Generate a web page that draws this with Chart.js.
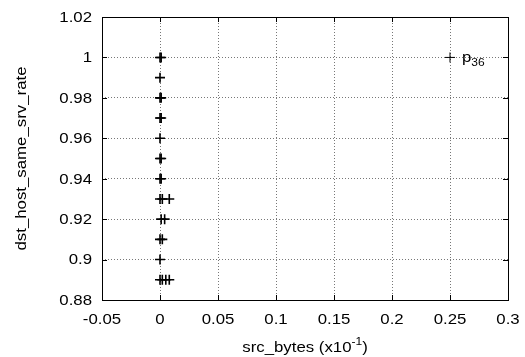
<!DOCTYPE html>
<html>
<head>
<meta charset="utf-8">
<script src="https://cdn.jsdelivr.net/npm/chart.js@4/dist/chart.umd.min.js"></script>
<style>
  html, body { margin: 0; padding: 0; background: #fff; }
  canvas { display: block; }
</style>
</head>
<body>
<canvas id="chart" width="525" height="357"></canvas>
<script>
// points clustered near src_bytes = 0
const srcBytes = [0, 0.001, 0, 0, 0.001, 0, 0.001, 0, 0, 0.001, 0, 0.001, 0, 0.002, 0.008, 0.001, 0.004, 0, 0.002, 0, 0, 0.002, 0.005, 0.008];
const srvRate  = [1, 1, 0.99, 0.98, 0.98, 0.97, 0.97, 0.96, 0.95, 0.95, 0.94, 0.94, 0.93, 0.93, 0.93, 0.92, 0.92, 0.91, 0.91, 0.9, 0.89, 0.89, 0.89, 0.89];
// labelled outlier
const outlierX = [0.25];
const outlierY = [1];
const xTicks = [-0.05, 0, 0.05, 0.1, 0.15, 0.2, 0.25, 0.3];
const yTicks = [0.88, 0.9, 0.92, 0.94, 0.96, 0.98, 1, 1.02];

const FONT = "'Liberation Sans', Arial, sans-serif";
const SIZE = 14;
const SX = 1.2; // gnuplot text looks wide, stretch along the baseline
const fmt = v => String(parseFloat(v.toFixed(2)));

function wideText(ctx, text, x, y, align, baseline, size, rot) {
  ctx.save();
  ctx.translate(x, y);
  if (rot) ctx.rotate(rot);
  ctx.scale(SX, 1);
  ctx.font = size + 'px ' + FONT;
  ctx.textAlign = align;
  ctx.textBaseline = baseline;
  ctx.fillText(text, 0, 0);
  ctx.restore();
}

function textW(ctx, text, size) {
  ctx.font = size + 'px ' + FONT;
  return ctx.measureText(text).width * SX;
}

// frame, inward ticks and all text drawn like gnuplot
const framePlugin = {
  id: 'frame',
  afterDatasetsDraw(chart) {
    const { ctx, chartArea: a, scales: { x, y } } = chart;
    ctx.save();
    ctx.strokeStyle = '#000';
    ctx.fillStyle = '#000';
    ctx.lineWidth = 1;
    ctx.beginPath();
    xTicks.forEach(v => {
      const px = Math.round(x.getPixelForValue(v)) + 0.5;
      ctx.moveTo(px, a.bottom); ctx.lineTo(px, a.bottom - 5);
      ctx.moveTo(px, a.top); ctx.lineTo(px, a.top + 5);
    });
    yTicks.forEach(v => {
      const py = Math.round(y.getPixelForValue(v)) + 0.5;
      ctx.moveTo(a.left, py); ctx.lineTo(a.left + 5, py);
      ctx.moveTo(a.right, py); ctx.lineTo(a.right - 5, py);
    });
    ctx.stroke();
    ctx.strokeRect(Math.round(a.left) + 0.5, Math.round(a.top) + 0.5,
      Math.round(a.right - a.left), Math.round(a.bottom - a.top));

    // tick labels
    xTicks.forEach(v => {
      wideText(ctx, fmt(v), x.getPixelForValue(v), a.bottom + 20, 'center', 'middle', SIZE);
    });
    yTicks.forEach(v => {
      wideText(ctx, fmt(v), a.left - 10, y.getPixelForValue(v) + 1, 'right', 'middle', SIZE);
    });

    // y axis title
    wideText(ctx, 'dst_host_same_srv_rate', 22, (a.top + a.bottom) / 2, 'center', 'middle', SIZE, -Math.PI / 2);

    // x axis title with superscript
    const main = 'src_bytes (x10';
    const sup = '-1';
    const tail = ')';
    const w1 = textW(ctx, main, SIZE);
    const w2 = textW(ctx, sup, 10);
    const w3 = textW(ctx, tail, SIZE);
    const sx = (a.left + a.right) / 2 - (w1 + w2 + w3) / 2;
    const by = 352;
    wideText(ctx, main, sx, by, 'left', 'alphabetic', SIZE);
    wideText(ctx, sup, sx + w1, by - 7, 'left', 'alphabetic', 10);
    wideText(ctx, tail, sx + w1 + w2, by, 'left', 'alphabetic', SIZE);

    // outlier label p36
    const lx = x.getPixelForValue(outlierX[0]) + 12;
    const ly = y.getPixelForValue(outlierY[0]) + 5;
    const pw = textW(ctx, 'p', SIZE);
    wideText(ctx, 'p', lx, ly, 'left', 'alphabetic', SIZE);
    wideText(ctx, '36', lx + pw, ly + 4, 'left', 'alphabetic', 10);
    ctx.restore();
  }
};

const ctx = document.getElementById('chart').getContext('2d');
new Chart(ctx, {
  type: 'scatter',
  data: {
    datasets: [
      {
        label: 'points',
        data: srcBytes.map((v, i) => ({ x: v, y: srvRate[i] })),
        pointStyle: 'cross',
        pointRadius: 5,
        pointBorderWidth: 1.6,
        borderColor: '#000',
        backgroundColor: '#000'
      },
      {
        label: 'p36',
        data: outlierX.map((v, i) => ({ x: v, y: outlierY[i] })),
        pointStyle: 'cross',
        pointRadius: 5,
        pointBorderWidth: 1,
        borderColor: '#000',
        backgroundColor: '#000'
      }
    ]
  },
  options: {
    responsive: false,
    animation: false,
    devicePixelRatio: 1,
    layout: { padding: { left: 0, right: 17, top: 17, bottom: 0 } },
    plugins: {
      legend: { display: false },
      tooltip: { enabled: false }
    },
    scales: {
      x: {
        type: 'linear',
        min: -0.05,
        max: 0.3,
        afterBuildTicks: s => { s.ticks = xTicks.map(v => ({ value: v })); },
        afterFit: s => { s.height = 57; },
        ticks: { display: false },
        grid: {
          color: '#777',
          lineWidth: 1,
          drawTicks: false
        },
        border: { display: false, dash: [1, 2] }
      },
      y: {
        type: 'linear',
        min: 0.88,
        max: 1.02,
        afterBuildTicks: s => { s.ticks = yTicks.map(v => ({ value: v })); },
        afterFit: s => { s.width = 102; },
        ticks: { display: false },
        grid: {
          color: '#777',
          lineWidth: 1,
          drawTicks: false
        },
        border: { display: false, dash: [1, 2] }
      }
    }
  },
  plugins: [framePlugin]
});
</script>
</body>
</html>
